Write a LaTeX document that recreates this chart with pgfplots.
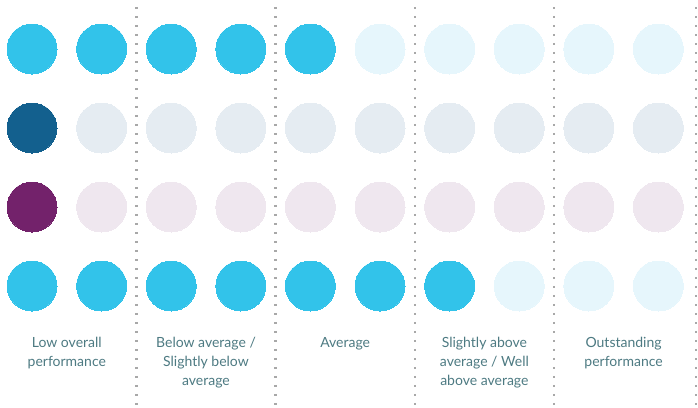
\documentclass[border=0pt]{standalone}
\usepackage{pgfplots}
\pgfplotsset{compat=1.18}
\usepackage{fontspec}
\setmainfont{Lato}
\definecolor{cyanF}{HTML}{32C3EA}
\definecolor{cyanL}{HTML}{E6F6FC}
\definecolor{blueF}{HTML}{13608E}
\definecolor{blueL}{HTML}{E5ECF2}
\definecolor{purpF}{HTML}{73226B}
\definecolor{purpL}{HTML}{EFE7EF}
\definecolor{labc}{HTML}{4D7A82}
\definecolor{divc}{HTML}{A8A8A8}
\tikzset{divider/.style={divc, line width=2.4pt, dash pattern=on 2.4pt off 6.6pt},
         glabel/.style={anchor=north, inner sep=0pt, align=center, text=labc,
                        font=\fontsize{14}{19}\selectfont}}
\pgfplotsset{dot/.style={only marks, mark=*, mark size=25pt, color=#1,
                         mark options={fill=#1, draw=#1, line width=0pt}}}
\begin{document}
\begin{tikzpicture}
\begin{axis}[
    width=698pt, height=406pt,
    scale only axis,
    hide axis,
    clip=false,
    xmin=-0.4598, xmax=9.569,
    ymin=-0.6203, ymax=4.519,
    y dir=reverse,
    ]
\path (rel axis cs:0,0) rectangle (rel axis cs:1,1);
% dotted dividers
\draw[divider] (axis cs:1.5,-0.532) -- (axis cs:1.5,4.519);
\draw[divider] (axis cs:3.5,-0.532) -- (axis cs:3.5,4.519);
\draw[divider] (axis cs:5.5,-0.532) -- (axis cs:5.5,4.519);
\draw[divider] (axis cs:7.5,-0.532) -- (axis cs:7.5,4.519);
\draw[divider] (axis cs:9.54,-0.532) -- (axis cs:9.54,4.519);
% row 1 (cyan)
\addplot[dot=cyanF] coordinates {(0,0) (1,0) (2,0) (3,0) (4,0)};
\addplot[dot=cyanL] coordinates {(5,0) (6,0) (7,0) (8,0) (9,0)};
% row 2 (dark blue)
\addplot[dot=blueF] coordinates {(0,1)};
\addplot[dot=blueL] coordinates {(1,1) (2,1) (3,1) (4,1) (5,1) (6,1) (7,1) (8,1) (9,1)};
% row 3 (purple)
\addplot[dot=purpF] coordinates {(0,2)};
\addplot[dot=purpL] coordinates {(1,2) (2,2) (3,2) (4,2) (5,2) (6,2) (7,2) (8,2) (9,2)};
% row 4 (cyan)
\addplot[dot=cyanF] coordinates {(0,3) (1,3) (2,3) (3,3) (4,3) (5,3) (6,3)};
\addplot[dot=cyanL] coordinates {(7,3) (8,3) (9,3)};
% group labels
\node[glabel] at (axis cs:0.5,3.645) {Low overall\\performance};
\node[glabel] at (axis cs:2.5,3.645) {Below average /\\Slightly below\\average};
\node[glabel] at (axis cs:4.5,3.645) {Average};
\node[glabel] at (axis cs:6.5,3.645) {Slightly above\\average / Well\\above average};
\node[glabel] at (axis cs:8.5,3.645) {Outstanding\\performance};
\end{axis}
\end{tikzpicture}
\end{document}
